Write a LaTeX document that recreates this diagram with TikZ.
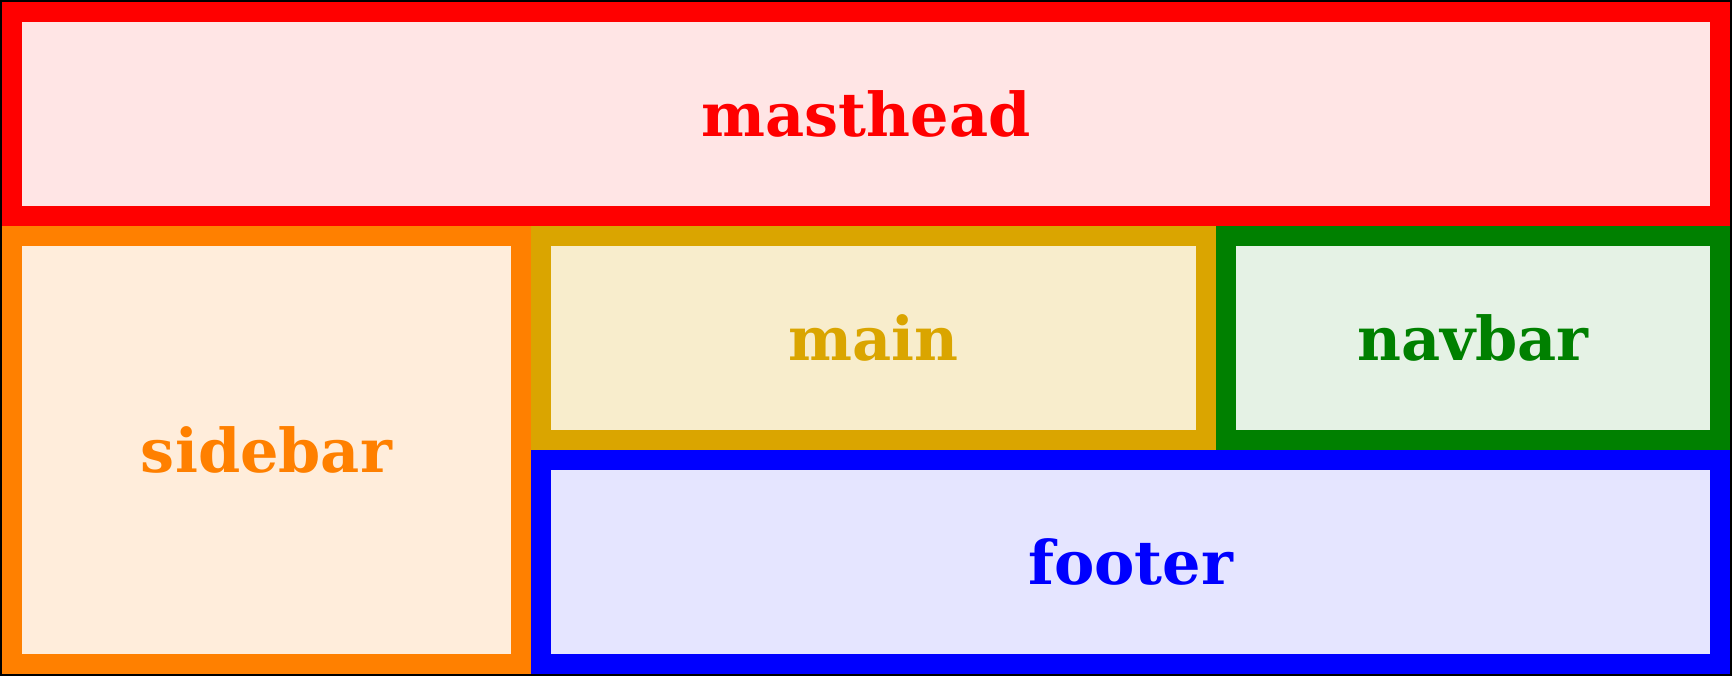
\documentclass[tikz,border=0pt]{standalone}
\usepackage{fontspec}
\setmainfont{DejaVu Serif}
\usepackage{tikz}
\usetikzlibrary{positioning}

\definecolor{mastred}{RGB}{255,0,0}
\definecolor{sideorange}{RGB}{255,128,0}
\definecolor{maingold}{RGB}{218,165,0}
\definecolor{navgreen}{RGB}{0,128,0}
\definecolor{footblue}{RGB}{0,0,255}

\begin{document}
\begin{tikzpicture}[
  node distance=0pt,
  region/.style={rectangle, draw=#1, fill=#1!10, text=#1, line width=2mm, inner sep=0pt, minimum height=2.04cm, font=\fontsize{17.2}{20}\selectfont\bfseries},
]
% outer frame
\fill[black] (0,0) rectangle (17.32,6.76);

\node[region=mastred, minimum width=17.08cm, anchor=north west] (masthead) at (0.02,6.74) {masthead};
\node[region=sideorange, fill=sideorange!14, minimum width=5.09cm, minimum height=4.28cm, below right=0pt and 0pt of masthead.south west] (sidebar) {sidebar};
\node[region=maingold, fill=maingold!20, minimum width=6.65cm, below right=0pt and 0pt of sidebar.north east] (main) {main};
\node[region=navgreen, minimum width=4.94cm, below right=0pt and 0pt of main.north east] (navbar) {navbar};
\node[region=footblue, minimum width=11.79cm, below right=0pt and 0pt of main.south west] (footer) {footer};
\end{tikzpicture}
\end{document}
